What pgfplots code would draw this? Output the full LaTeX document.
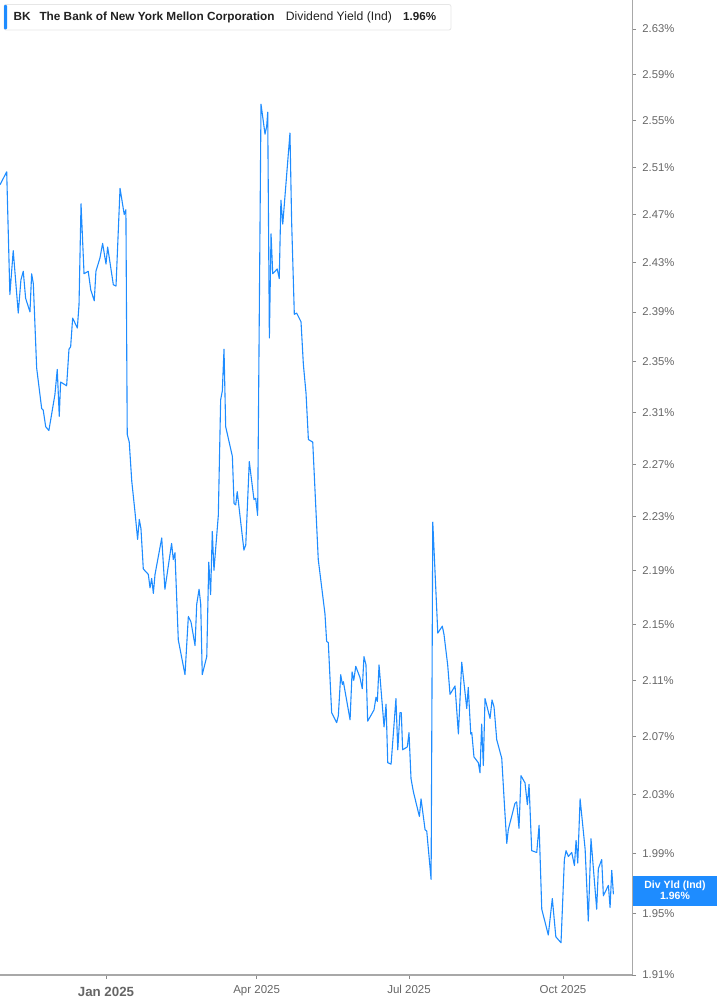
\documentclass[border=0pt]{standalone}
\usepackage{fontspec}
\setmainfont{Liberation Sans}
\usepackage{pgfplots}
\pgfplotsset{compat=1.18}
\usepackage{pgfplotstable}
\definecolor{lineblue}{HTML}{1E8CFF}
\definecolor{axisgray}{HTML}{A8A8A8}
\definecolor{tickgray}{HTML}{8A8A8A}
\definecolor{ticktext}{HTML}{666666}
\definecolor{darktext}{HTML}{222222}
\definecolor{boxborder}{HTML}{E6E6E6}

\pgfplotstableread{
day yield
-63.3 2.495
-59.3 2.506
-57.4 2.404
-55.4 2.440
-52.4 2.389
-50.8 2.416
-49.4 2.423
-48.0 2.401
-45.4 2.390
-44.4 2.421
-43.4 2.413
-41.4 2.345
-38.4 2.313
-37.5 2.312
-36.0 2.299
-34.1 2.296
-30.5 2.324
-29.1 2.344
-27.9 2.307
-27.1 2.334
-23.5 2.331
-22.1 2.360
-21.1 2.362
-19.9 2.385
-17.1 2.377
-16.1 2.396
-14.9 2.479
-13.1 2.421
-10.6 2.423
-9.1 2.408
-7.0 2.399
-6.0 2.423
-3.6 2.434
-2.0 2.446
0.0 2.429
1.0 2.443
4.4 2.412
6.0 2.411
8.4 2.492
10.9 2.470
11.9 2.474
12.7 2.293
13.9 2.287
15.4 2.257
17.3 2.234
18.9 2.213
19.9 2.228
20.9 2.221
22.3 2.191
25.3 2.187
26.3 2.177
27.3 2.184
28.3 2.173
29.3 2.187
33.3 2.214
35.2 2.176
39.2 2.210
40.2 2.198
41.2 2.203
43.2 2.139
47.2 2.114
49.2 2.156
50.8 2.152
53.2 2.135
54.2 2.165
55.6 2.176
56.6 2.165
57.5 2.114
60.2 2.127
61.4 2.196
62.5 2.172
63.5 2.219
64.5 2.190
67.1 2.231
68.5 2.320
69.5 2.327
70.5 2.360
71.5 2.299
75.5 2.276
76.5 2.240
77.5 2.239
78.4 2.249
82.4 2.205
83.5 2.209
85.6 2.272
88.4 2.243
89.4 2.244
90.6 2.231
92.6 2.564
95.0 2.538
96.0 2.545
96.6 2.557
97.6 2.369
98.6 2.454
99.6 2.421
102.3 2.425
103.5 2.417
104.5 2.482
105.6 2.462
109.9 2.539
110.9 2.464
112.5 2.388
113.9 2.389
116.5 2.382
117.9 2.348
119.5 2.325
120.9 2.289
123.5 2.287
126.8 2.198
130.8 2.158
131.8 2.138
132.8 2.137
134.8 2.087
137.8 2.080
138.8 2.085
140.2 2.114
141.2 2.107
141.8 2.109
145.8 2.082
147.0 2.116
148.0 2.110
149.2 2.120
151.7 2.112
153.1 2.104
154.1 2.127
155.3 2.121
156.3 2.081
158.7 2.086
160.1 2.089
161.3 2.098
162.1 2.095
163.1 2.121
166.1 2.077
167.3 2.093
168.3 2.052
170.3 2.051
173.2 2.097
174.3 2.061
175.6 2.087
176.4 2.087
177.2 2.061
180.0 2.063
181.0 2.073
182.2 2.041
183.6 2.032
187.2 2.015
188.2 2.027
190.6 2.006
191.6 2.005
194.2 1.973
195.2 2.226
198.2 2.144
200.9 2.149
201.9 2.143
204.1 2.121
205.5 2.100
208.5 2.106
210.5 2.072
212.5 2.123
215.5 2.090
216.4 2.105
217.9 2.072
218.5 2.073
219.8 2.056
222.4 2.052
223.4 2.045
224.4 2.079
225.4 2.050
226.4 2.097
229.4 2.083
230.6 2.096
231.8 2.091
233.4 2.068
236.4 2.055
237.9 2.025
239.4 1.997
240.3 2.006
244.3 2.024
245.3 2.025
246.7 2.007
247.9 2.043
250.3 2.038
251.7 2.023
252.7 2.037
254.3 1.992
257.3 1.991
258.7 2.009
260.3 1.953
264.2 1.936
266.6 1.960
268.7 1.935
271.8 1.931
273.8 1.986
274.8 1.992
276.2 1.988
278.2 1.991
279.8 1.982
280.8 1.999
281.8 1.984
283.2 2.027
286.2 1.993
288.1 1.945
289.7 2.000
293.1 1.953
294.1 1.980
296.1 1.986
297.1 1.962
300.1 1.969
301.1 1.954
302.1 1.979
303.1 1.963
}\divdata

\begin{document}
\begin{tikzpicture}
\path[use as bounding box] (0pt,0pt) rectangle (717pt,1005pt);
\begin{axis}[
  at={(0pt,30pt)}, anchor=south west,
  scale only axis, width=632pt, height=975pt,
  ymode=log,
  xmin=-63.3, xmax=314.2, ymin=1.91, ymax=2.656,
  axis x line=bottom, axis y line=right,
  axis line style={-},
  x axis line style={draw=axisgray, line width=1.4pt},
  y axis line style={draw=axisgray, line width=1pt},
  tick align=outside,
  major tick length=4pt,
  minor tick num=0,
  xtick={0,90,181,273},
  xticklabels={{\raisebox{-2.6pt}{\fontsize{13.3}{14}\selectfont\bfseries Jan 2025}},Apr 2025,Jul 2025,Oct 2025},
  xtick style={draw=tickgray, line width=0.8pt},
  ytick={1.91,1.95,1.99,2.03,2.07,2.11,2.15,2.19,2.23,2.27,2.31,2.35,2.39,2.43,2.47,2.51,2.55,2.59,2.63},
  yticklabels={1.91\%,1.95\%,1.99\%,2.03\%,2.07\%,2.11\%,2.15\%,2.19\%,2.23\%,2.27\%,2.31\%,2.35\%,2.39\%,2.43\%,2.47\%,2.51\%,2.55\%,2.59\%,2.63\%},
  ytick style={draw=tickgray, line width=0.8pt},
  xticklabel style={font=\fontsize{11.5}{12}\selectfont, text=ticktext, anchor=base, inner sep=0pt, yshift=-14.7pt},
  yticklabel style={font=\fontsize{11.3}{12}\selectfont, text=ticktext, anchor=base west, inner sep=0pt, xshift=6.2pt, yshift=-4pt},
]
\addplot[draw=lineblue, line width=1.1pt, no markers, line join=round] table[x=day, y=yield] {\divdata};
\end{axis}
% header legend box
\draw[draw=boxborder, fill=white, rounded corners=2pt, line width=0.8pt] (4pt,975pt) rectangle (451pt,1000.5pt);
\fill[lineblue, rounded corners=1pt] (4pt,975.5pt) rectangle (7pt,1000pt);
\node[anchor=base west, inner sep=0pt, font=\fontsize{11.8}{12}\selectfont\bfseries, text=darktext] at (13.3pt,984.3pt) {BK};
\node[anchor=base west, inner sep=0pt, font=\fontsize{11.8}{12}\selectfont\bfseries, text=darktext] at (39.3pt,984.3pt) {The Bank of New York Mellon Corporation};
\node[anchor=base west, inner sep=0pt, font=\fontsize{12.2}{12}\selectfont, text=darktext] at (285.7pt,984.3pt) {Dividend Yield (Ind)};
\node[anchor=base west, inner sep=0pt, font=\fontsize{11.6}{12}\selectfont\bfseries, text=darktext] at (403pt,984.3pt) {1.96\%};
% last value box
\fill[lineblue] (632.7pt,99.3pt) rectangle (717pt,129pt);
\node[anchor=base, inner sep=0pt, font=\fontsize{10.5}{11}\selectfont\bfseries, text=white] at (675pt,116.5pt) {Div Yld (Ind)};
\node[anchor=base, inner sep=0pt, font=\fontsize{10.5}{11}\selectfont\bfseries, text=white] at (675pt,105pt) {1.96\%};
\end{tikzpicture}
\end{document}
